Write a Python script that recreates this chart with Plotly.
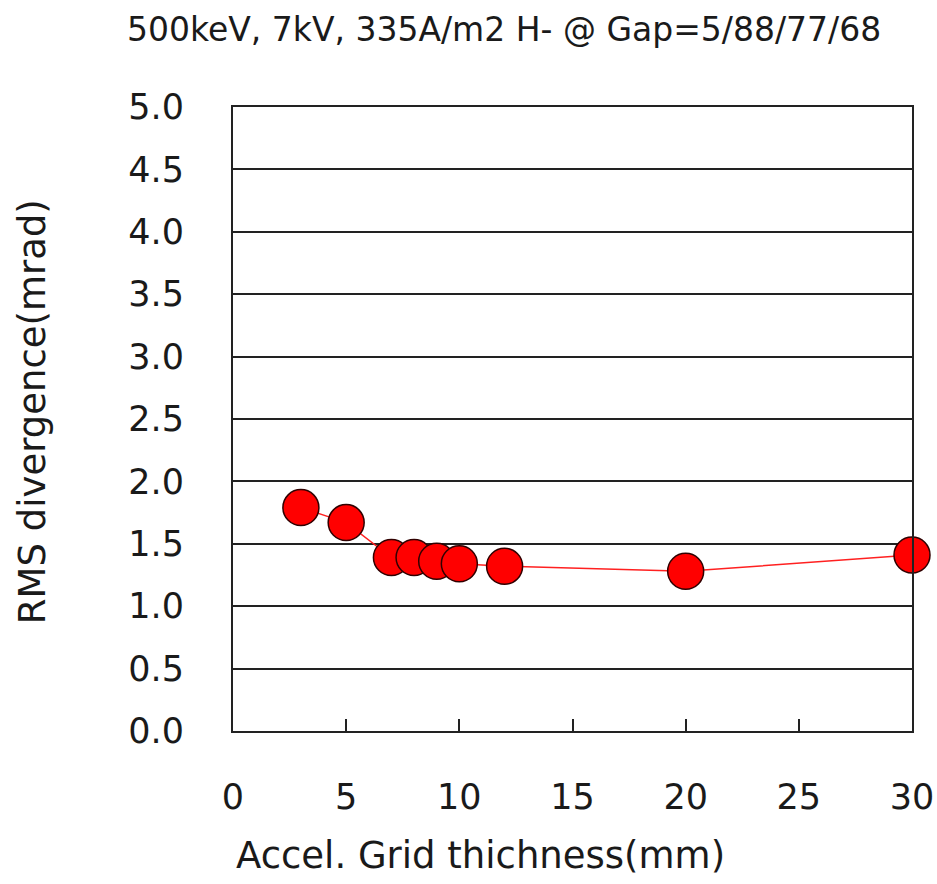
import plotly.graph_objects as go

thickness_mm = [3, 5, 7, 8, 9, 10, 12, 20, 30]
rms_div_mrad = [1.79, 1.67, 1.39, 1.39, 1.36, 1.34, 1.32, 1.28, 1.41]

title_text = "500keV, 7kV, 335A/m2 H- @ Gap=5/88/77/68"
x_title = "Accel. Grid thichness(mm)"
y_title = "RMS divergence(mrad)"
x_ticks = [0, 5, 10, 15, 20, 25, 30]
y_ticks = [0.0, 0.5, 1.0, 1.5, 2.0, 2.5, 3.0, 3.5, 4.0, 4.5, 5.0]

FONT = "DejaVu Sans"
TXT = "#1a1a1a"

fig = go.Figure()
fig.add_trace(go.Scatter(
    x=thickness_mm, y=rms_div_mrad, mode="lines+markers",
    line=dict(color="#ff2020", width=1.5),
    marker=dict(size=36, color="#ff0000", line=dict(color="#300000", width=1.5)),
    showlegend=False, cliponaxis=False,
))

fig.update_layout(
    width=937, height=884,
    margin=dict(l=233, r=25, t=107, b=153, autoexpand=False),
    paper_bgcolor="white", plot_bgcolor="white",
    font=dict(family=FONT, color=TXT),
)
fig.add_annotation(text=title_text, xref="paper", yref="paper", x=0.399, y=1.125,
                   xanchor="center", yanchor="middle", showarrow=False,
                   font=dict(size=33, family=FONT, color=TXT))
fig.add_annotation(text=x_title, xref="paper", yref="paper", x=0.365, y=-0.199,
                   xanchor="center", yanchor="middle", showarrow=False,
                   font=dict(size=37, family=FONT, color=TXT))
fig.add_annotation(text=y_title, xref="paper", yref="paper", x=-0.296, y=0.511,
                   xanchor="center", yanchor="middle", showarrow=False, textangle=-90,
                   font=dict(size=37, family=FONT, color=TXT))

fig.update_xaxes(
    range=[0, 30], tickvals=x_ticks, ticktext=[str(v) for v in x_ticks],
    showgrid=False, zeroline=False, automargin=False,
    showline=True, linecolor="#222222", linewidth=2, mirror=True,
    ticks="inside", ticklen=12, tickwidth=2, tickcolor="#222222",
    tickfont=dict(size=35, family=FONT, color=TXT), ticklabelstandoff=34,
)
fig.update_yaxes(
    range=[0, 5.0], tickvals=y_ticks, ticktext=[f"{v:.1f}" for v in y_ticks],
    showgrid=True, gridcolor="#222222", gridwidth=2, zeroline=False, automargin=False,
    showline=True, linecolor="#222222", linewidth=2, mirror=True,
    ticks="", tickfont=dict(size=35, family=FONT, color=TXT), ticklabelstandoff=40,
)

fig.write_html("out.html")
